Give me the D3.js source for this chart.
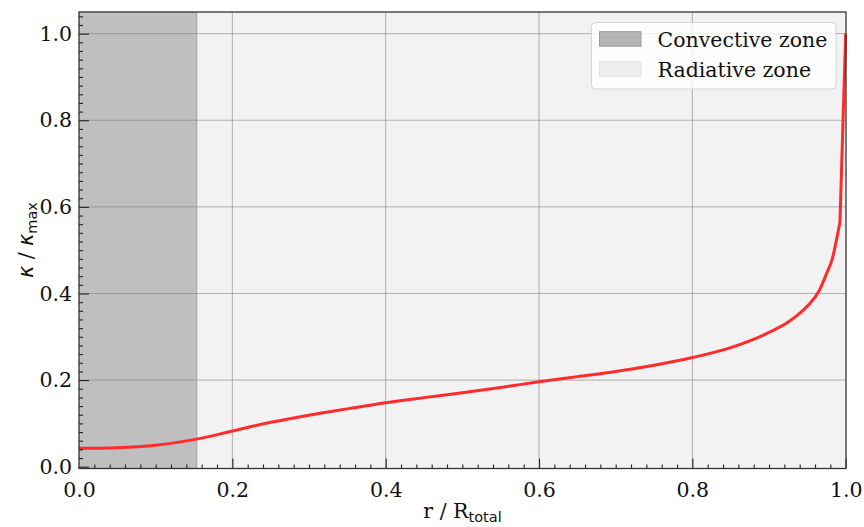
<!DOCTYPE html>
<html>
<head>
<meta charset="utf-8">
<script src="https://cdn.jsdelivr.net/npm/d3@7"></script>
<style>
html,body{margin:0;padding:0;background:#fff;}
svg{display:block;}
text{font-family:"DejaVu Serif",serif;}
</style>
</head>
<body>
<svg id="chart" width="864" height="527"></svg>
<script>
// ---- data ----
const radius = [0.00,0.05,0.10,0.15,0.20,0.25,0.30,0.35,0.40,0.45,0.50,0.55,0.60,0.65,0.70,0.75,0.80,0.85,0.90,0.925,0.95,0.965,0.975,0.982,0.9925,1.00];
const kappa  = [0.0425,0.0440,0.0495,0.0625,0.0823,0.1025,0.1190,0.1335,0.1475,0.1595,0.1710,0.1830,0.1960,0.2080,0.2200,0.2345,0.2520,0.2750,0.3100,0.3340,0.3710,0.4050,0.4460,0.4770,0.5650,1.0000];
const convectiveEdge = 0.1535;
const xTicks = [0.0,0.2,0.4,0.6,0.8,1.0];
const yTicks = [0.0,0.2,0.4,0.6,0.8,1.0];
const legendLabels = ["Convective zone","Radiative zone"];

const svg = d3.select("#chart");
const L = 79, R = 846, T = 12, B = 468.5;
const x = d3.scaleLinear().domain([0,1.0]).range([L, L + 766.7]);
const y = d3.scaleLinear().domain([0,1.05]).range([466.7, T]);

// background spans
svg.append("rect").attr("x",L).attr("y",T).attr("width",R-L).attr("height",B-T).attr("fill","#f2f2f2");
svg.append("rect").attr("x",L).attr("y",T).attr("width",x(convectiveEdge)-L).attr("height",B-T).attr("fill","#bfbfbf");
svg.append("line").attr("x1",x(convectiveEdge)).attr("x2",x(convectiveEdge)).attr("y1",T).attr("y2",B)
  .attr("stroke","#a8a8a8").attr("stroke-width",1.2);

// grid
const grid = svg.append("g").attr("stroke","#808080").attr("stroke-opacity",0.6).attr("stroke-width",1);
xTicks.filter(t=>t>0 && t<1).forEach(t=>grid.append("line").attr("x1",x(t)).attr("x2",x(t)).attr("y1",T).attr("y2",B));
yTicks.filter(t=>t>0).forEach(t=>grid.append("line").attr("x1",L).attr("x2",R).attr("y1",y(t)).attr("y2",y(t)));

// curve: smooth through the body, straight final segment to the surface
const pts = radius.map((r,i)=>[r,kappa[i]]);
const body = pts.slice(0, pts.length-1);
const last = pts[pts.length-1];
const dBody = d3.line().x(d=>x(d[0])).y(d=>y(d[1])).curve(d3.curveMonotoneX)(body);
svg.append("path")
  .attr("d", dBody + `L${x(last[0])},${y(last[1])}`)
  .attr("fill","none").attr("stroke","#ff2a2a").attr("stroke-width",3).attr("stroke-linejoin","round");

// axes with inward ticks
const minorX = d3.range(0,51).map(i=>i*0.02).filter(v=>Math.abs(v*5-Math.round(v*5))>1e-6);
const minorY = d3.range(0,53).map(i=>i*0.02).filter(v=>Math.abs(v*5-Math.round(v*5))>1e-6 && v<=1.05);

const xAxis = svg.append("g").attr("transform",`translate(0,${B})`)
  .call(d3.axisBottom(x).tickValues(xTicks).tickFormat(d3.format(".1f")).tickSizeInner(-10).tickSizeOuter(0).tickPadding(14));
svg.append("g").attr("transform",`translate(0,${B})`)
  .call(d3.axisBottom(x).tickValues(minorX).tickFormat("").tickSizeInner(-4).tickSizeOuter(0))
  .call(g=>g.select(".domain").remove());
const yAxis = svg.append("g").attr("transform",`translate(${L},0)`)
  .call(d3.axisLeft(y).tickValues(yTicks).tickFormat(d3.format(".1f")).tickSizeInner(-10).tickSizeOuter(0).tickPadding(7));
svg.append("g").attr("transform",`translate(${L},0)`)
  .call(d3.axisLeft(y).tickValues(minorY).tickFormat("").tickSizeInner(-4).tickSizeOuter(0))
  .call(g=>g.select(".domain").remove());

svg.selectAll(".tick line").attr("stroke","#222").attr("stroke-width",1.1);
svg.selectAll(".domain").remove();
xAxis.selectAll("text").attr("font-family","DejaVu Serif").attr("font-size",20.5).attr("fill","#111");
yAxis.selectAll("text").attr("font-family","DejaVu Serif").attr("font-size",20.5).attr("fill","#111");
xAxis.selectAll(".tick").filter(d=>d===0).select("line").remove();

// frame
svg.append("rect").attr("x",L).attr("y",T).attr("width",R-L).attr("height",B-T)
  .attr("fill","none").attr("stroke","#333").attr("stroke-width",1.3);

// legend
const lg = svg.append("g");
lg.append("rect").attr("x",591.5).attr("y",22.5).attr("width",244.5).attr("height",66.5).attr("rx",4)
  .attr("fill","#ffffff").attr("fill-opacity",0.8).attr("stroke","#d4d4d4").attr("stroke-width",1);
const patchFill = ["#b4b4b4","#eeeeee"], patchStroke = ["#9c9c9c","#e2e2e2"];
legendLabels.forEach((lab,i)=>{
  const yy = 31.7 + i*30;
  lg.append("rect").attr("x",599.5).attr("y",yy).attr("width",41.5).attr("height",14.5)
    .attr("fill",patchFill[i]).attr("stroke",patchStroke[i]).attr("stroke-width",1);
  lg.append("text").attr("x",657.5).attr("y",yy+15.5).attr("font-size",20.5).attr("fill","#111").text(lab);
});

// axis labels
const xl = svg.append("text").attr("x",462.5).attr("y",518).attr("text-anchor","middle").attr("font-size",20.5).attr("fill","#111");
xl.append("tspan").text("r / R");
xl.append("tspan").attr("font-family","DejaVu Sans").attr("font-size",14.5).attr("dy",4).text("total");

const yl = svg.append("text").attr("transform","translate(33,240) rotate(-90)").attr("text-anchor","middle").attr("font-size",20.5).attr("fill","#111");
yl.append("tspan").attr("font-family","DejaVu Sans").attr("font-style","italic").text("κ");
yl.append("tspan").text(" / ");
yl.append("tspan").attr("font-family","DejaVu Sans").attr("font-style","italic").text("κ");
yl.append("tspan").attr("font-family","DejaVu Sans").attr("font-size",14.5).attr("dy",4).text("max");
</script>
</body>
</html>
